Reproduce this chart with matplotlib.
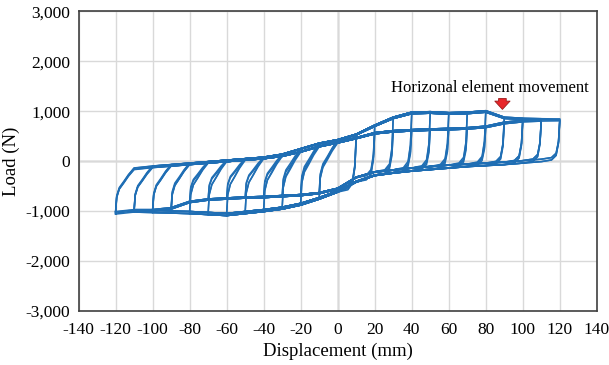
import matplotlib
matplotlib.use('Agg')
import matplotlib.pyplot as plt
from matplotlib.ticker import FuncFormatter, MultipleLocator
import numpy as np

plt.rcParams['font.family'] = ['Liberation Serif', 'DejaVu Serif']
plt.rcParams['axes.unicode_minus'] = False

# displacement grid of the backbone curves (mm)
disp = [-120, -110, -100, -90, -80, -70, -60, -50, -40, -30, -20, -10, 0,
        10, 20, 30, 40, 50, 60, 70, 80, 90, 100, 110, 120]

# loading branch (moving right), first cycle / repeated cycles (N)
upper_first = [-160, -140, -100, -70, -40, -10, 20, 50, 80, 140, 250, 360, 430,
               540, 720, 880, 980, 990, 970, 980, 1010, 880, 860, 850, 845]
upper_repeat = [-180, -170, -130, -100, -70, -40, -10, 20, 50, 100, 190, 300, 380,
                470, 570, 610, 630, 645, 655, 670, 700, 780, 820, 835, 840]

# unloading branch (moving left), first cycle / repeated cycles (N)
lower_first = [-1060, -1020, -1030, -1040, -1050, -1070, -1090, -1050, -1010, -960, -880, -760, -620,
               -420, -290, -240, -200, -170, -140, -110, -90, -70, -40, -10, 0]
lower_repeat = [-1040, -1000, -1000, -960, -830, -780, -760, -740, -730, -710, -690, -650, -560,
                -330, -220, -180, -140, -110, -80, -60, -40, -20, 10, 40, 60]

# target amplitudes of the loading protocol (mm)
amplitudes = [10, 20, 30, 40, 50, 60, 70, 80, 90, 100, 110, 120]

# shape of the reversal ribs (offset in mm, fraction of load change)
rib_pos_dx = [0, 0.7, 2.0, 4.5, 10]
rib_pos_fr = [0, 0.55, 0.85, 0.96, 1.0]
rib_neg_dx = [0, 0.6, 2.0, 4.4, 7.0, 10]
rib_neg_fr = [0, 0.36, 0.55, 0.69, 0.85, 1.0]

cycles = [(upper_first, lower_first, 1.0),
          (upper_first, lower_repeat, 0.97),
          (upper_repeat, lower_repeat, 1.0),
          (upper_repeat, lower_first, 0.96)]


def build_loop(amp, up, lo, scale):
    i0 = disp.index(-amp)
    i1 = disp.index(amp)
    up = np.array(up) * scale
    lo = np.array(lo) * scale
    xs, ys = [], []
    f0, f1 = lo[i0], up[i0 + 1]
    for dx, fr in zip(rib_neg_dx, rib_neg_fr):
        xs.append(-amp + dx)
        ys.append(f0 + fr * (f1 - f0))
    xs += disp[i0 + 2:i1 + 1]
    ys += list(up[i0 + 2:i1 + 1])
    f0, f1 = up[i1], lo[i1 - 1]
    for dx, fr in zip(rib_pos_dx, rib_pos_fr):
        xs.append(amp - dx)
        ys.append(f0 + fr * (f1 - f0))
    xs += disp[i0:i1 - 1][::-1]
    ys += list(lo[i0:i1 - 1][::-1])
    return xs, ys


fig = plt.figure(figsize=(6.09, 3.65), dpi=100)
ax = fig.add_axes([0.129, 0.148, 0.851, 0.821])

for amp in amplitudes:
    for up, lo, sc in cycles:
        xs, ys = build_loop(amp, up, lo, sc)
        ax.plot(xs, ys, color='#1f6eb4', lw=1.1, zorder=3)

ax.set_xlim(-140, 140)
ax.set_ylim(-3000, 3000)
ax.xaxis.set_major_locator(MultipleLocator(20))
ax.yaxis.set_major_locator(MultipleLocator(1000))
ax.yaxis.set_major_formatter(FuncFormatter(lambda v, p: '{:,.0f}'.format(v)))
ax.xaxis.set_major_formatter(FuncFormatter(lambda v, p: '{:.0f}'.format(v)))
ax.grid(True, color='#d9d9d9', lw=1.0, zorder=0)
ax.axhline(0, color='#595959', lw=0.9, zorder=1)
ax.axvline(0, color='#595959', lw=0.9, zorder=1)
for s in ax.spines.values():
    s.set_color('#404040')
    s.set_linewidth(1.2)
ax.tick_params(length=0, labelsize=12.5, colors='black')
ax.tick_params(axis='x', pad=8)
ax.tick_params(axis='y', pad=6)

ax.set_xlabel('Displacement (mm)', fontsize=13.5, labelpad=3)
ax.set_ylabel('Load (N)', fontsize=13.5, labelpad=4)

ax.text(82, 1460, 'Horizonal element movement', fontsize=12, ha='center', va='center')
ax.annotate('', xy=(89, 980), xytext=(89, 1310),
            arrowprops=dict(arrowstyle='simple,head_width=1.1,head_length=0.6,tail_width=0.55',
                            fc='#e8262a', ec='#9c1c1c', lw=0.6))

fig.savefig('out.png', dpi=100)
